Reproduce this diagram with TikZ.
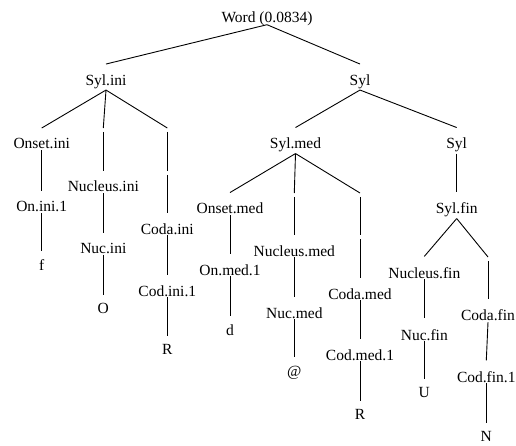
\documentclass[tikz,border=0pt]{standalone}
\usepackage{fontspec}
\setmainfont{Liberation Serif}
\begin{document}
\begin{tikzpicture}[x=1pt,y=-1pt,
  lab/.style={anchor=base,inner sep=0pt,font=\fontsize{15.5}{18}\selectfont},
  edge/.style={draw=black,line width=0.9pt}]
\useasboundingbox (0,0) rectangle (516,446);
% nodes
\node[lab,text depth=1pt] (word) at (267,22.5) {Word (0.0834)};
\node[lab] (sylini) at (106,85.5) {Syl.ini};
\node[lab] (syla) at (360,85.5) {Syl};
\node[lab] (onsetini) at (41.7,149) {Onset.ini};
\node[lab] (nucleusini) at (103.3,192) {Nucleus.ini};
\node[lab] (codaini) at (167.3,234) {Coda.ini};
\node[lab] (onini) at (41.7,211.5) {On.ini.1};
\node[lab] (fini) at (41.7,270) {f};
\node[lab] (nucini) at (103.3,253.5) {Nuc.ini};
\node[lab] (oini) at (103.3,313) {O};
\node[lab] (codini) at (167.3,296) {Cod.ini.1};
\node[lab] (rini) at (167.3,354.5) {R};
\node[lab] (sylmed) at (295.5,149) {Syl.med};
\node[lab] (sylb) at (456.7,149) {Syl};
\node[lab] (onsetmed) at (230,214) {Onset.med};
\node[lab] (nucleusmed) at (294.3,256) {Nucleus.med};
\node[lab] (codamed) at (360,299) {Coda.med};
\node[lab] (onmed) at (230,275) {On.med.1};
\node[lab] (dmed) at (230,335) {d};
\node[lab] (nucmed) at (294.3,318) {Nuc.med};
\node[lab] (atmed) at (294.3,376) {@};
\node[lab] (codmed) at (360,360) {Cod.med.1};
\node[lab] (rmed) at (360,419.5) {R};
\node[lab] (sylfin) at (456.7,214) {Syl.fin};
\node[lab] (nucleusfin) at (424.3,278) {Nucleus.fin};
\node[lab] (codafin) at (488,320.7) {Coda.fin};
\node[lab] (nucfin) at (424.3,340) {Nuc.fin};
\node[lab] (ufin) at (424.3,397.5) {U};
\node[lab] (codfin) at (486.3,382) {Cod.fin.1};
\node[lab] (nfin) at (486.3,441) {N};
% dummy points on staggered edges
\coordinate (dni) at (103.3,128);
\coordinate (dci1) at (167.3,128);
\coordinate (dci2) at (167.3,171);
\coordinate (dnm) at (294.3,193);
\coordinate (dcm1) at (360,193);
\coordinate (dcm2) at (360,235);
\coordinate (dcf) at (488,257);
% edges
\draw[edge] ([yshift=-1pt]word.south) -- ([yshift=10.5pt]sylini.north);
\draw[edge] ([yshift=-1pt]word.south) -- ([yshift=10.5pt]syla.north);
% Syl.ini subtree
\draw[edge] ([yshift=-1pt]sylini.south) -- ([yshift=10.5pt]onsetini.north);
\draw[edge] ([yshift=-1pt]sylini.south) -- (dni);
\draw[edge] ([yshift=-4pt]dni) -- ([yshift=10.5pt]nucleusini.north);
\draw[edge] ([yshift=-1pt]sylini.south) -- (dci1);
\draw[edge] ([yshift=-4pt]dci1) -- (dci2);
\draw[edge] ([yshift=-4pt]dci2) -- ([yshift=10.5pt]codaini.north);
\draw[edge] ([yshift=-1pt]onsetini.south) -- ([yshift=10.5pt]onini.north);
\draw[edge] ([yshift=-1pt]onini.south) -- ([yshift=8pt]fini.north);
\draw[edge] ([yshift=-1pt]nucleusini.south) -- ([yshift=10.5pt]nucini.north);
\draw[edge] ([yshift=-1pt]nucini.south) -- ([yshift=8pt]oini.north);
\draw[edge] ([yshift=-1pt]codaini.south) -- ([yshift=10.5pt]codini.north);
\draw[edge] ([yshift=-1pt]codini.south) -- ([yshift=8pt]rini.north);
% Syl subtree
\draw[edge] ([yshift=-1pt]syla.south) -- ([yshift=10.5pt]sylmed.north);
\draw[edge] ([yshift=-1pt]syla.south) -- ([yshift=10.5pt]sylb.north);
\draw[edge] ([yshift=-1pt]sylmed.south) -- ([yshift=10.5pt]onsetmed.north);
\draw[edge] ([yshift=-1pt]sylmed.south) -- (dnm);
\draw[edge] ([yshift=-4pt]dnm) -- ([yshift=10.5pt]nucleusmed.north);
\draw[edge] ([yshift=-1pt]sylmed.south) -- (dcm1);
\draw[edge] ([yshift=-4pt]dcm1) -- (dcm2);
\draw[edge] ([yshift=-4pt]dcm2) -- ([yshift=10.5pt]codamed.north);
\draw[edge] ([yshift=-1pt]onsetmed.south) -- ([yshift=10.5pt]onmed.north);
\draw[edge] ([yshift=-1pt]onmed.south) -- ([yshift=8pt]dmed.north);
\draw[edge] ([yshift=-1pt]nucleusmed.south) -- ([yshift=10.5pt]nucmed.north);
\draw[edge] ([yshift=-1pt]nucmed.south) -- ([yshift=8pt]atmed.north);
\draw[edge] ([yshift=-1pt]codamed.south) -- ([yshift=10.5pt]codmed.north);
\draw[edge] ([yshift=-1pt]codmed.south) -- ([yshift=8pt]rmed.north);
\draw[edge] ([yshift=-1pt]sylb.south) -- ([yshift=10.5pt]sylfin.north);
\draw[edge] ([yshift=-1pt]sylfin.south) -- ([yshift=10.5pt]nucleusfin.north);
\draw[edge] ([yshift=-1pt]sylfin.south) -- (dcf);
\draw[edge] ([yshift=-4pt]dcf) -- ([yshift=10.5pt]codafin.north);
\draw[edge] ([yshift=-1pt]nucleusfin.south) -- ([yshift=10.5pt]nucfin.north);
\draw[edge] ([yshift=-1pt]nucfin.south) -- ([yshift=8pt]ufin.north);
\draw[edge] ([yshift=-1pt]codafin.south) -- ([yshift=10.5pt]codfin.north);
\draw[edge] ([yshift=-1pt]codfin.south) -- ([yshift=8pt]nfin.north);
\end{tikzpicture}
\end{document}
